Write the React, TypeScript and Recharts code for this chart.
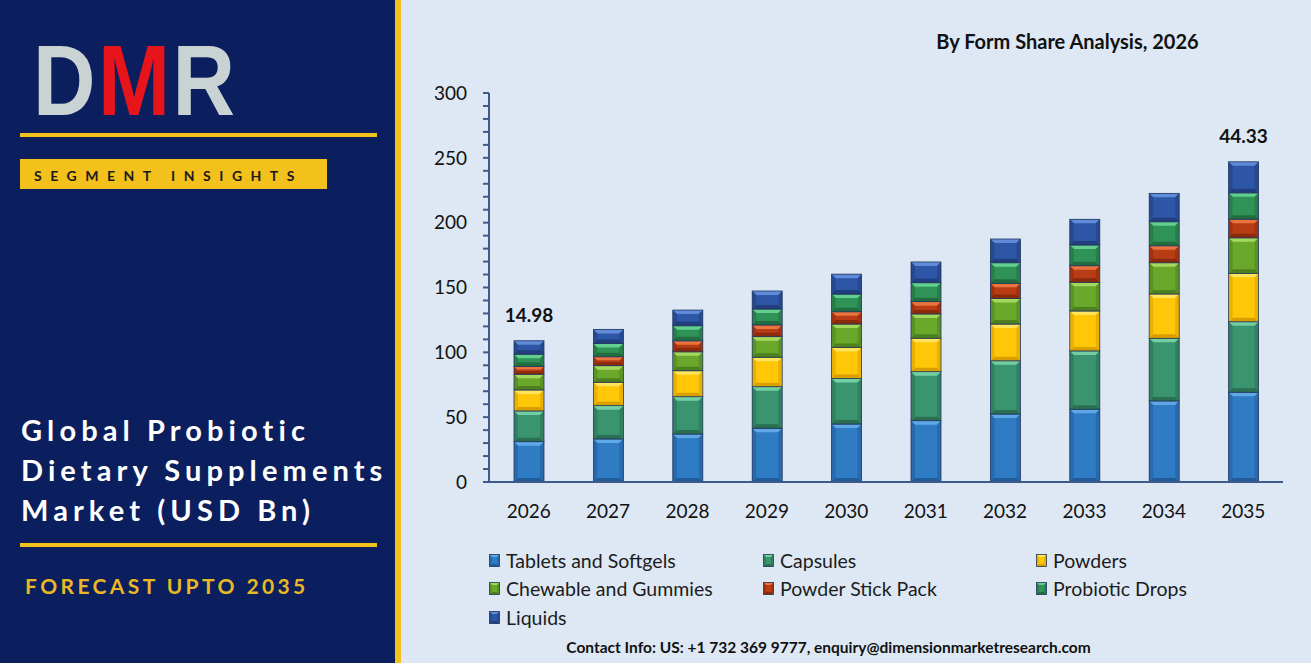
import React from "react";
import { BarChart, Bar, XAxis, YAxis, Legend, LabelList } from "recharts";

const years = ["2026", "2027", "2028", "2029", "2030", "2031", "2032", "2033", "2034", "2035"];
const tablets = [31.1, 33.2, 37.0, 41.4, 44.7, 47.3, 52.4, 56.1, 62.5, 69.2];
const capsules = [23.7, 25.7, 28.8, 32.1, 35.2, 37.8, 41.1, 45.0, 48.3, 54.4];
const powders = [16.2, 18.0, 20.0, 22.7, 23.9, 25.8, 28.3, 30.8, 34.2, 37.3];
const chewable = [12.1, 12.8, 14.6, 15.9, 18.0, 18.7, 19.8, 22.1, 24.1, 27.4];
const stickPack = [5.9, 6.9, 8.5, 9.0, 9.5, 9.5, 11.6, 12.8, 13.1, 14.4];
const drops = [9.6, 10.3, 11.6, 12.3, 13.6, 14.6, 15.9, 16.0, 18.5, 20.3];
const liquids = [10.3, 10.8, 12.1, 13.9, 15.4, 16.0, 18.3, 19.8, 21.9, 23.9];
const callouts = ["14.98", "", "", "", "", "", "", "", "", "44.33"];
const yTicks = [0, 10, 20, 30, 40, 50, 60, 70, 80, 90, 100, 110, 120, 130, 140, 150, 160, 170, 180, 190, 200, 210, 220, 230, 240, 250, 260, 270, 280, 290, 300];

const data = years.map((year, i) => ({
  year,
  tablets: tablets[i],
  capsules: capsules[i],
  powders: powders[i],
  chewable: chewable[i],
  stickPack: stickPack[i],
  drops: drops[i],
  liquids: liquids[i],
  callout: callouts[i],
}));

type Tone = { key: string; name: string; base: string; light: string; dark: string };

const series: Tone[] = [
  { key: "tablets", name: "Tablets and Softgels", base: "#2f7bc4", light: "#5fa8e6", dark: "#225c98" },
  { key: "capsules", name: "Capsules", base: "#3b9470", light: "#72cfa2", dark: "#2b6f53" },
  { key: "powders", name: "Powders", base: "#ffc708", light: "#ffe45c", dark: "#d99e00" },
  { key: "chewable", name: "Chewable and Gummies", base: "#6aa82c", light: "#a4d95e", dark: "#4e8020" },
  { key: "stickPack", name: "Powder Stick Pack", base: "#b83c14", light: "#ea7440", dark: "#8a2a0c" },
  { key: "drops", name: "Probiotic Drops", base: "#2f9358", light: "#62cf8c", dark: "#226c40" },
  { key: "liquids", name: "Liquids", base: "#2d56a6", light: "#5f8bd9", dark: "#203f7c" },
];

const FONT = "Lato, 'Open Sans', sans-serif";
const NAVY = "#0b1f5e";
const GOLD = "#f3c11b";

// eslint-disable-next-line @typescript-eslint/no-explicit-any
function BevelRect(props: any) {
  const { x, y, width: w, height: h, tone } = props;
  if (!w || !h || h <= 0) return null;
  const b = Math.min(4, h / 2.6, w / 4);
  return (
    <g>
      <rect x={x} y={y} width={w} height={h} fill={tone.base} />
      <polygon points={`${x},${y} ${x + w},${y} ${x + w - b},${y + b} ${x + b},${y + b}`} fill={tone.light} />
      <polygon points={`${x},${y + h} ${x + w},${y + h} ${x + w - b},${y + h - b} ${x + b},${y + h - b}`} fill={tone.dark} />
      <polygon points={`${x},${y} ${x + b},${y + b} ${x + b},${y + h - b} ${x},${y + h}`} fill={tone.dark} opacity={0.55} />
      <polygon points={`${x + w},${y} ${x + w - b},${y + b} ${x + w - b},${y + h - b} ${x + w},${y + h}`} fill={tone.dark} opacity={0.55} />
      <rect x={x} y={y} width={w} height={h} fill="none" stroke="#23385f" strokeWidth={0.8} />
    </g>
  );
}

function LegendIcon({ tone }: { tone: Tone }) {
  return (
    <svg width={11} height={13} style={{ marginRight: 6, flexShrink: 0 }}>
      <BevelRect x={0.5} y={0.5} width={10} height={12} tone={tone} />
    </svg>
  );
}

function renderLegend() {
  return (
    <div
      style={{
        display: "grid",
        gridTemplateColumns: "274px 273px 220px",
        gridAutoRows: "28.5px",
        fontFamily: FONT,
        fontSize: 19.5,
        color: "#1c1c1c",
      }}
    >
      {series.map((s) => (
        <div key={s.key} style={{ display: "flex", alignItems: "center" }}>
          <LegendIcon tone={s} />
          <span>{s.name}</span>
        </div>
      ))}
    </div>
  );
}

function Logo() {
  const f = "'Liberation Sans', Arial, sans-serif";
  return (
    <svg width={300} height={140} style={{ position: "absolute", left: 0, top: 0 }}>
      <g transform="translate(33,115) scale(0.866,1)">
        <text x={0} y={0} fontFamily={f} fontWeight={700} fontSize={100} fill="#c9d3d3">D</text>
        <text x={75} y={0} fontFamily={f} fontWeight={700} fontSize={100} fill="#e8141c">M</text>
        <text x={161} y={0} fontFamily={f} fontWeight={700} fontSize={100} fill="#c9d3d3">R</text>
      </g>
    </svg>
  );
}

export default function App() {
  return (
    <div style={{ position: "absolute", left: 0, top: 0, width: 1311, height: 668, background: "#ffffff", overflow: "hidden" }}>
      {/* left panel */}
      <div style={{ position: "absolute", left: 0, top: 0, width: 395, height: 663, background: NAVY }}>
        <Logo />
        <div style={{ position: "absolute", left: 20, top: 133, width: 357, height: 4, background: GOLD }} />
        <div
          style={{
            position: "absolute", left: 20, top: 159, width: 307, height: 30, background: GOLD,
            fontFamily: FONT, fontWeight: 700, fontSize: 14, letterSpacing: 8.5, color: "#1a1a1a",
            lineHeight: "30px", paddingLeft: 14, paddingTop: 2, boxSizing: "border-box",
          }}
        >
          SEGMENT INSIGHTS
        </div>
        <div
          style={{
            position: "absolute", left: 21, top: 410, fontFamily: FONT, fontWeight: 700, fontSize: 29,
            letterSpacing: 5.1, lineHeight: "40px", color: "#ffffff", whiteSpace: "nowrap",
          }}
        >
          Global Probiotic<br />Dietary Supplements<br />Market (USD Bn)
        </div>
        <div style={{ position: "absolute", left: 20, top: 543, width: 357, height: 4, background: GOLD }} />
        <div
          style={{
            position: "absolute", left: 25, top: 573, fontFamily: FONT, fontWeight: 700, fontSize: 21,
            letterSpacing: 3.4, color: "#e9b824", whiteSpace: "nowrap",
          }}
        >
          FORECAST UPTO 2035
        </div>
      </div>
      <div style={{ position: "absolute", left: 395, top: 0, width: 6, height: 663, background: GOLD }} />
      {/* right panel */}
      <div style={{ position: "absolute", left: 401, top: 0, width: 910, height: 663, background: "#dde8f4" }}>
        <div
          style={{
            position: "absolute", left: 0, top: 29, width: 1333, textAlign: "center",
            fontFamily: FONT, fontWeight: 700, fontSize: 20, color: "#111",
          }}
        >
          By Form Share Analysis, 2026
        </div>
        <div style={{ position: "absolute", left: 0, top: 0 }}>
          <BarChart
            width={910}
            height={663}
            data={data}
            margin={{ top: 93, right: 28, bottom: 151, left: 28 }}
            barSize={30}
          >
            <XAxis
              dataKey="year"
              axisLine={{ stroke: "#3d5a8a", strokeWidth: 2 }}
              tickLine={false}
              tickMargin={17}
              height={30}
              tick={{ fontFamily: FONT, fontSize: 19, fill: "#111" }}
            />
            <YAxis
              domain={[0, 300]}
              ticks={yTicks}
              interval={0}
              width={60}
              tickFormatter={(v: number) => (v % 50 === 0 ? String(v) : "")}
              axisLine={{ stroke: "#3d5a8a", strokeWidth: 2 }}
              tickLine={{ stroke: "#3d5a8a", strokeWidth: 2 }}
              tickSize={6}
              tickMargin={16}
              tick={{ fontFamily: FONT, fontSize: 19, fill: "#111" }}
            />
            <Legend
              content={renderLegend}
              layout="horizontal"
              verticalAlign="middle"
              align="center"
              wrapperStyle={{ position: "absolute", left: 88, top: 546, width: 800 }}
            />
            {series.map((s, i) => (
              <Bar
                key={s.key}
                dataKey={s.key}
                name={s.name}
                stackId="a"
                fill={s.base}
                isAnimationActive={false}
                shape={(p: any) => <BevelRect {...p} tone={s} />}
              >
                {i === series.length - 1 && (
                  <LabelList
                    dataKey="callout"
                    position="top"
                    offset={19}
                    style={{ fontFamily: FONT, fontWeight: 700, fontSize: 19, fill: "#111" }}
                  />
                )}
              </Bar>
            ))}
          </BarChart>
        </div>
        <div
          style={{
            position: "absolute", left: 0, top: 638, width: 855, textAlign: "center",
            fontFamily: FONT, fontWeight: 700, fontSize: 15.5, color: "#111",
          }}
        >
          Contact Info: US: +1 732 369 9777, enquiry@dimensionmarketresearch.com
        </div>
      </div>
    </div>
  );
}
